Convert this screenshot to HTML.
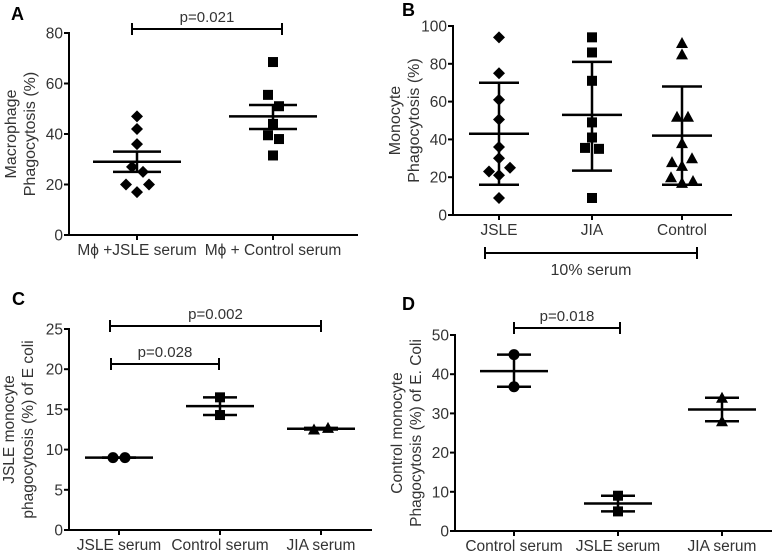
<!DOCTYPE html>
<html><head><meta charset="utf-8"><style>
body{margin:0;background:#fff}
svg{display:block;font-family:"Liberation Sans",sans-serif}
</style></head><body>
<svg id="fig" width="778" height="554" viewBox="0 0 778 554" xmlns="http://www.w3.org/2000/svg"></svg>
<script>
// Panel A data
const aCats=["M\u03d5 +JSLE serum","M\u03d5 + Control serum"];
const aVals=[[47,42,36,27,25,20,20,17],[68.5,55.5,51,44,39.5,38,31.5]];
const aMean=[29,47];
const aLo=[25,42];
const aHi=[33,51.5];
const aTicks=[0,20,40,60,80];
// Panel B data
const bCats=["JSLE","JIA","Control"];
const bVals=[[94,75,61,50.5,36,30,23,25,21,9],[94,86,71,49,41,35.5,35,9],[91,85,52,52,38,30,28,26,20,18,17]];
const bMean=[43,53,42];
const bLo=[16,23.5,16];
const bHi=[70,81,68];
const bTicks=[0,20,40,60,80,100];
// Panel C data
const cCats=["JSLE serum","Control serum","JIA serum"];
const cVals=[[9,9],[16.5,14.3],[12.5,12.7]];
const cMean=[9,15.4,12.6];
const cLo=[9,14.3,12.5];
const cHi=[9,16.5,12.7];
const cTicks=[0,5,10,15,20,25];
// Panel D data
const dCats=["Control serum","JSLE serum","JIA serum"];
const dVals=[[45,36.8],[9,5],[34,28]];
const dMean=[40.8,7,31];
const dLo=[36.8,5,28];
const dHi=[45,9,34];
const dTicks=[0,10,20,30,40,50];

// layout only: horizontal scatter offsets (px) for overlapping points
const aJit=[[0,0,0,-5,6,-11,12,0],[0,-5,6,0,-5,6,0]];
const bJit=[[0,0,0,0,0,0,-10,11,0,0],[0,0,0,0,0,-7,7,0],[0,0,-5,6,0,10,-10,0,-11,11,0]];
const cJit=[[-6,6],[0,0],[-7,7]];
const dJit=[[0,0],[0,0],[0,0]];

const NS="http://www.w3.org/2000/svg";
const svg=document.getElementById('fig');
function mk(tag,attrs,parent,text){const e=document.createElementNS(NS,tag);for(const k in attrs)e.setAttribute(k,attrs[k]);if(text!==undefined)e.textContent=text;(parent||svg).appendChild(e);return e;}

function shape(g,type,x,y){
  if(type=='diamond')return mk('polygon',{points:`${x},${y-6} ${x+6},${y} ${x},${y+6} ${x-6},${y}`,fill:'#000'},g);
  if(type=='square')return mk('rect',{x:x-5,y:y-5,width:10,height:10,fill:'#000'},g);
  if(type=='circle')return mk('circle',{cx:x,cy:y,r:5.5,fill:'#000'},g);
  return mk('polygon',{points:`${x},${y-6} ${x+6},${y+5} ${x-6},${y+5}`,fill:'#000'},g);
}
function panel(o){
  const g=mk('g',{});
  
  
  const ymax=o.ticks[o.ticks.length-1];
  const Y=v=>o.y0+(o.yTop-o.y0)*v/ymax;
  const lab=mk('text',{x:o.labX,y:o.labY,'font-size':18,'font-weight':'bold',fill:'#000'},g,o.letter);
  
  mk('line',{x1:o.ax,y1:o.yTop-1,x2:o.ax,y2:o.y0+1,stroke:'#000','stroke-width':2},g);
  mk('line',{x1:o.ax-1,y1:o.y0,x2:o.xEnd,y2:o.y0,stroke:'#000','stroke-width':2},g);
  o.ticks.forEach(t=>{mk('line',{x1:o.ax-5,y1:Y(t),x2:o.ax,y2:Y(t),stroke:'#000','stroke-width':2},g);
    const tt=mk('text',{x:o.ax-6,y:Y(t)+5.5,'font-size':15.5,'text-anchor':'end',fill:'#333'},g,t);
    });
  const yt=mk('text',{transform:`translate(${o.ytx},${(o.yTop+o.y0)/2}) rotate(-90)`,'font-size':o.yfs||16,'text-anchor':'middle',fill:'#333'},g);
  
  o.ytitle.forEach((l,i)=>mk('tspan',{x:0,dy:i==0?0:19},yt,l));
  o.cats.forEach((c,i)=>{const x=o.cx[i];
    mk('line',{x1:x,y1:o.y0,x2:x,y2:o.y0+5,stroke:'#000','stroke-width':2},g);
    const ct=mk('text',{x:x,y:o.y0+20,'font-size':15.5,'text-anchor':'middle',fill:'#333'},g,c);
    
    o.vals[i].forEach((v,j)=>{const p=shape(g,o.shapes[i],x+((o.jit[i]||[])[j]||0),Y(v));
      });
    const m=mk('line',{x1:x-o.mw,y1:Y(o.mean[i]),x2:x+o.mw,y2:Y(o.mean[i]),stroke:'#000','stroke-width':2.5},g);
    
    mk('line',{x1:x,y1:Y(o.lo[i]),x2:x,y2:Y(o.hi[i]),stroke:'#000','stroke-width':2.5},g);
    [o.lo[i],o.hi[i]].forEach(v=>mk('line',{x1:x-o.ew,y1:Y(v),x2:x+o.ew,y2:Y(v),stroke:'#000','stroke-width':2.5},g));
  });
  (o.brackets||[]).forEach(b=>{
    const bg=mk('g',{},g);
    mk('line',{x1:b.x1,y1:b.y,x2:b.x2,y2:b.y,stroke:'#000','stroke-width':2},bg);
    mk('line',{x1:b.x1,y1:b.y-6,x2:b.x1,y2:b.y+6,stroke:'#000','stroke-width':2},bg);
    mk('line',{x1:b.x2,y1:b.y-6,x2:b.x2,y2:b.y+6,stroke:'#000','stroke-width':2},bg);
    mk('text',{x:(b.x1+b.x2)/2,y:b.y-7,'font-size':15,'text-anchor':'middle',fill:'#333'},bg,b.t);
  });
}
panel({name:'panel-a',letter:'A',labX:11,labY:20,ax:69,xEnd:358,y0:235,yTop:33,ticks:aTicks,cats:aCats,cx:[137,273],
  vals:aVals,jit:aJit,mean:aMean,lo:aLo,hi:aHi,shapes:['diamond','square'],mw:44,ew:24,ytx:16,ytitle:['Macrophage','Phagocytosis (%)']});
panel({name:'panel-b',letter:'B',labX:402,labY:16,ax:453,xEnd:732,y0:215,yTop:26,ticks:bTicks,cats:bCats,cx:[499,592,682],
  vals:bVals,jit:bJit,mean:bMean,lo:bLo,hi:bHi,shapes:['diamond','square','triangle'],mw:30,ew:20,ytx:400,ytitle:['Monocyte','Phagocytosis (%)']});
panel({name:'panel-c',letter:'C',labX:12,labY:305,ax:69,xEnd:372,y0:530,yTop:329,ticks:cTicks,cats:cCats,cx:[119,220,321],
  vals:cVals,jit:cJit,mean:cMean,lo:cLo,hi:cHi,shapes:['circle','square','triangle'],mw:34,ew:17,ytx:14,yfs:15.5,ytitle:['JSLE monocyte','phagocytosis (%) of E coli']});
panel({name:'panel-d',letter:'D',labX:402,labY:310,ax:455,xEnd:772,y0:531,yTop:335,ticks:dTicks,cats:dCats,cx:[514,618,722],
  vals:dVals,jit:dJit,mean:dMean,lo:dLo,hi:dHi,shapes:['circle','square','triangle'],mw:34,ew:17,ytx:402,yfs:15.5,ytitle:['Control monocyte','Phagocytosis (%) of E. Coli']});
// brackets drawn separately
function bracket(x1,x2,y,t){
  const bg=mk('g',{});
  
  
  mk('line',{x1:x1,y1:y,x2:x2,y2:y,stroke:'#000','stroke-width':2},bg);
  mk('line',{x1:x1,y1:y-6,x2:x1,y2:y+6,stroke:'#000','stroke-width':2},bg);
  mk('line',{x1:x2,y1:y-6,x2:x2,y2:y+6,stroke:'#000','stroke-width':2},bg);
  mk('text',{x:(x1+x2)/2,y:y-7,'font-size':15,'text-anchor':'middle',fill:'#333'},bg,t);
}
bracket(132,282,29,'p=0.021');
bracket(110,321,326,'p=0.002');
bracket(111,219,364,'p=0.028');
bracket(514,620,328,'p=0.018');
// 10% serum bracket in B
const sb=mk('g',{});


mk('line',{x1:485,y1:253,x2:697,y2:253,stroke:'#000','stroke-width':2},sb);
mk('line',{x1:485,y1:247,x2:485,y2:259,stroke:'#000','stroke-width':2},sb);
mk('line',{x1:697,y1:247,x2:697,y2:259,stroke:'#000','stroke-width':2},sb);
mk('text',{x:591,y:275,'font-size':16,'text-anchor':'middle',fill:'#333'},sb,'10% serum');
</script>
</body></html>
